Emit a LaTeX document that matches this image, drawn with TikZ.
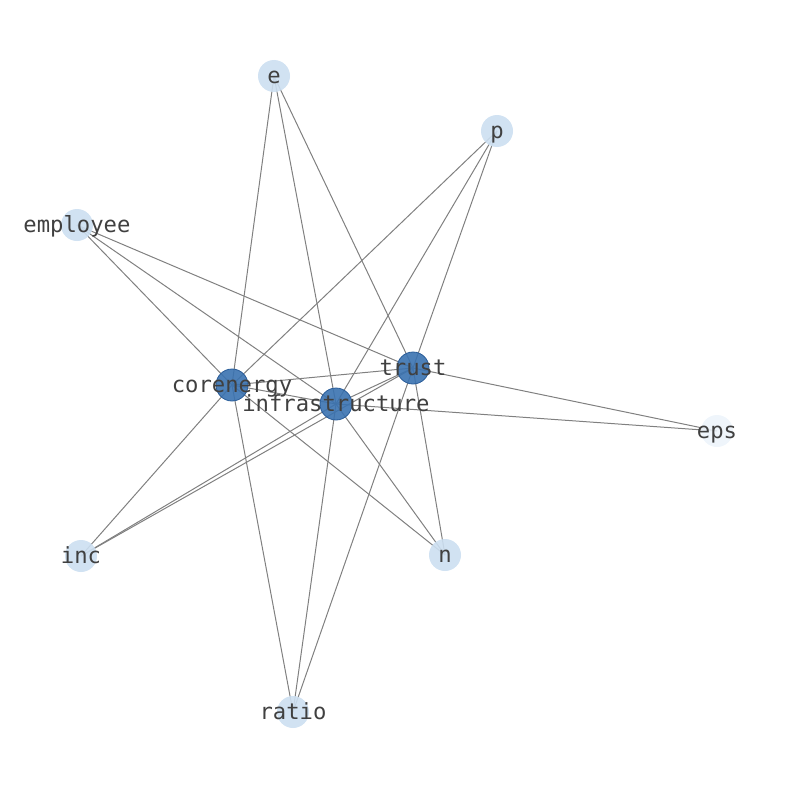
\documentclass[tikz,border=0pt]{standalone}
\usepackage{fontspec}
\newfontfamily\lblfont{DejaVu Sans Mono}
\definecolor{edgegray}{HTML}{808080}
\definecolor{hubfill}{rgb}{0.227,0.447,0.690}
\definecolor{hubdraw}{rgb}{0.16,0.36,0.60}
\definecolor{leaffill}{HTML}{CCDFF1}
\definecolor{lowfill}{HTML}{EDF4FB}
\definecolor{lbl}{HTML}{404040}
\begin{document}
\begin{tikzpicture}[x=1bp,y=-1bp,
  edge/.style={draw=edgegray,line width=1bp},
  hub/.style={circle,minimum size=32bp,inner sep=0pt,fill=hubfill,fill opacity=0.9,draw=hubdraw,line width=0.8bp},
  leaf/.style={circle,minimum size=32bp,inner sep=0pt,fill=leaffill,fill opacity=0.9},
  low/.style={circle,minimum size=32bp,inner sep=0pt,fill=lowfill,fill opacity=0.9},
  txt/.style={text=lbl,font=\lblfont\fontsize{22.3}{26}\selectfont,inner sep=0pt,anchor=base,yshift=-7bp}]
\useasboundingbox (0,0) rectangle (794,790);
% coordinates
\coordinate (ce) at (274,76);
\coordinate (cp) at (497,131);
\coordinate (cemp) at (77,225);
\coordinate (ctr) at (413,368);
\coordinate (cco) at (232,385);
\coordinate (cin) at (336,404);
\coordinate (ceps) at (717,431);
\coordinate (cinc) at (81,556);
\coordinate (cn) at (445,555);
\coordinate (cra) at (293,712);
% edges
\foreach \a in {ce,cp,cemp,cinc,cn,cra}{
  \draw[edge] (\a) -- (ctr);
  \draw[edge] (\a) -- (cco);
  \draw[edge] (\a) -- (cin);
}
\draw[edge] (ceps) -- (ctr);
\draw[edge] (ceps) -- (cin);
\draw[edge] (cco) -- (ctr);
\draw[edge] (cco) -- (cin);
\draw[edge] (cin) -- (ctr);
% nodes
\node[leaf] (e) at (ce) {};
\node[leaf] (p) at (cp) {};
\node[leaf] (employee) at (cemp) {};
\node[hub] (trust) at (ctr) {};
\node[hub] (corenergy) at (cco) {};
\node[hub] (infrastructure) at (cin) {};
\node[low] (eps) at (ceps) {};
\node[leaf] (inc) at (cinc) {};
\node[leaf] (n) at (cn) {};
\node[leaf] (ratio) at (cra) {};
% labels
\node[txt] at (e.center) {e};
\node[txt] at (p.center) {p};
\node[txt] at (employee.center) {employee};
\node[txt] at (trust.center) {trust};
\node[txt] at (corenergy.center) {corenergy};
\node[txt] at (infrastructure.center) {infrastructure};
\node[txt] at (eps.center) {eps};
\node[txt] at (inc.center) {inc};
\node[txt] at (n.center) {n};
\node[txt] at (ratio.center) {ratio};
\end{tikzpicture}
\end{document}
